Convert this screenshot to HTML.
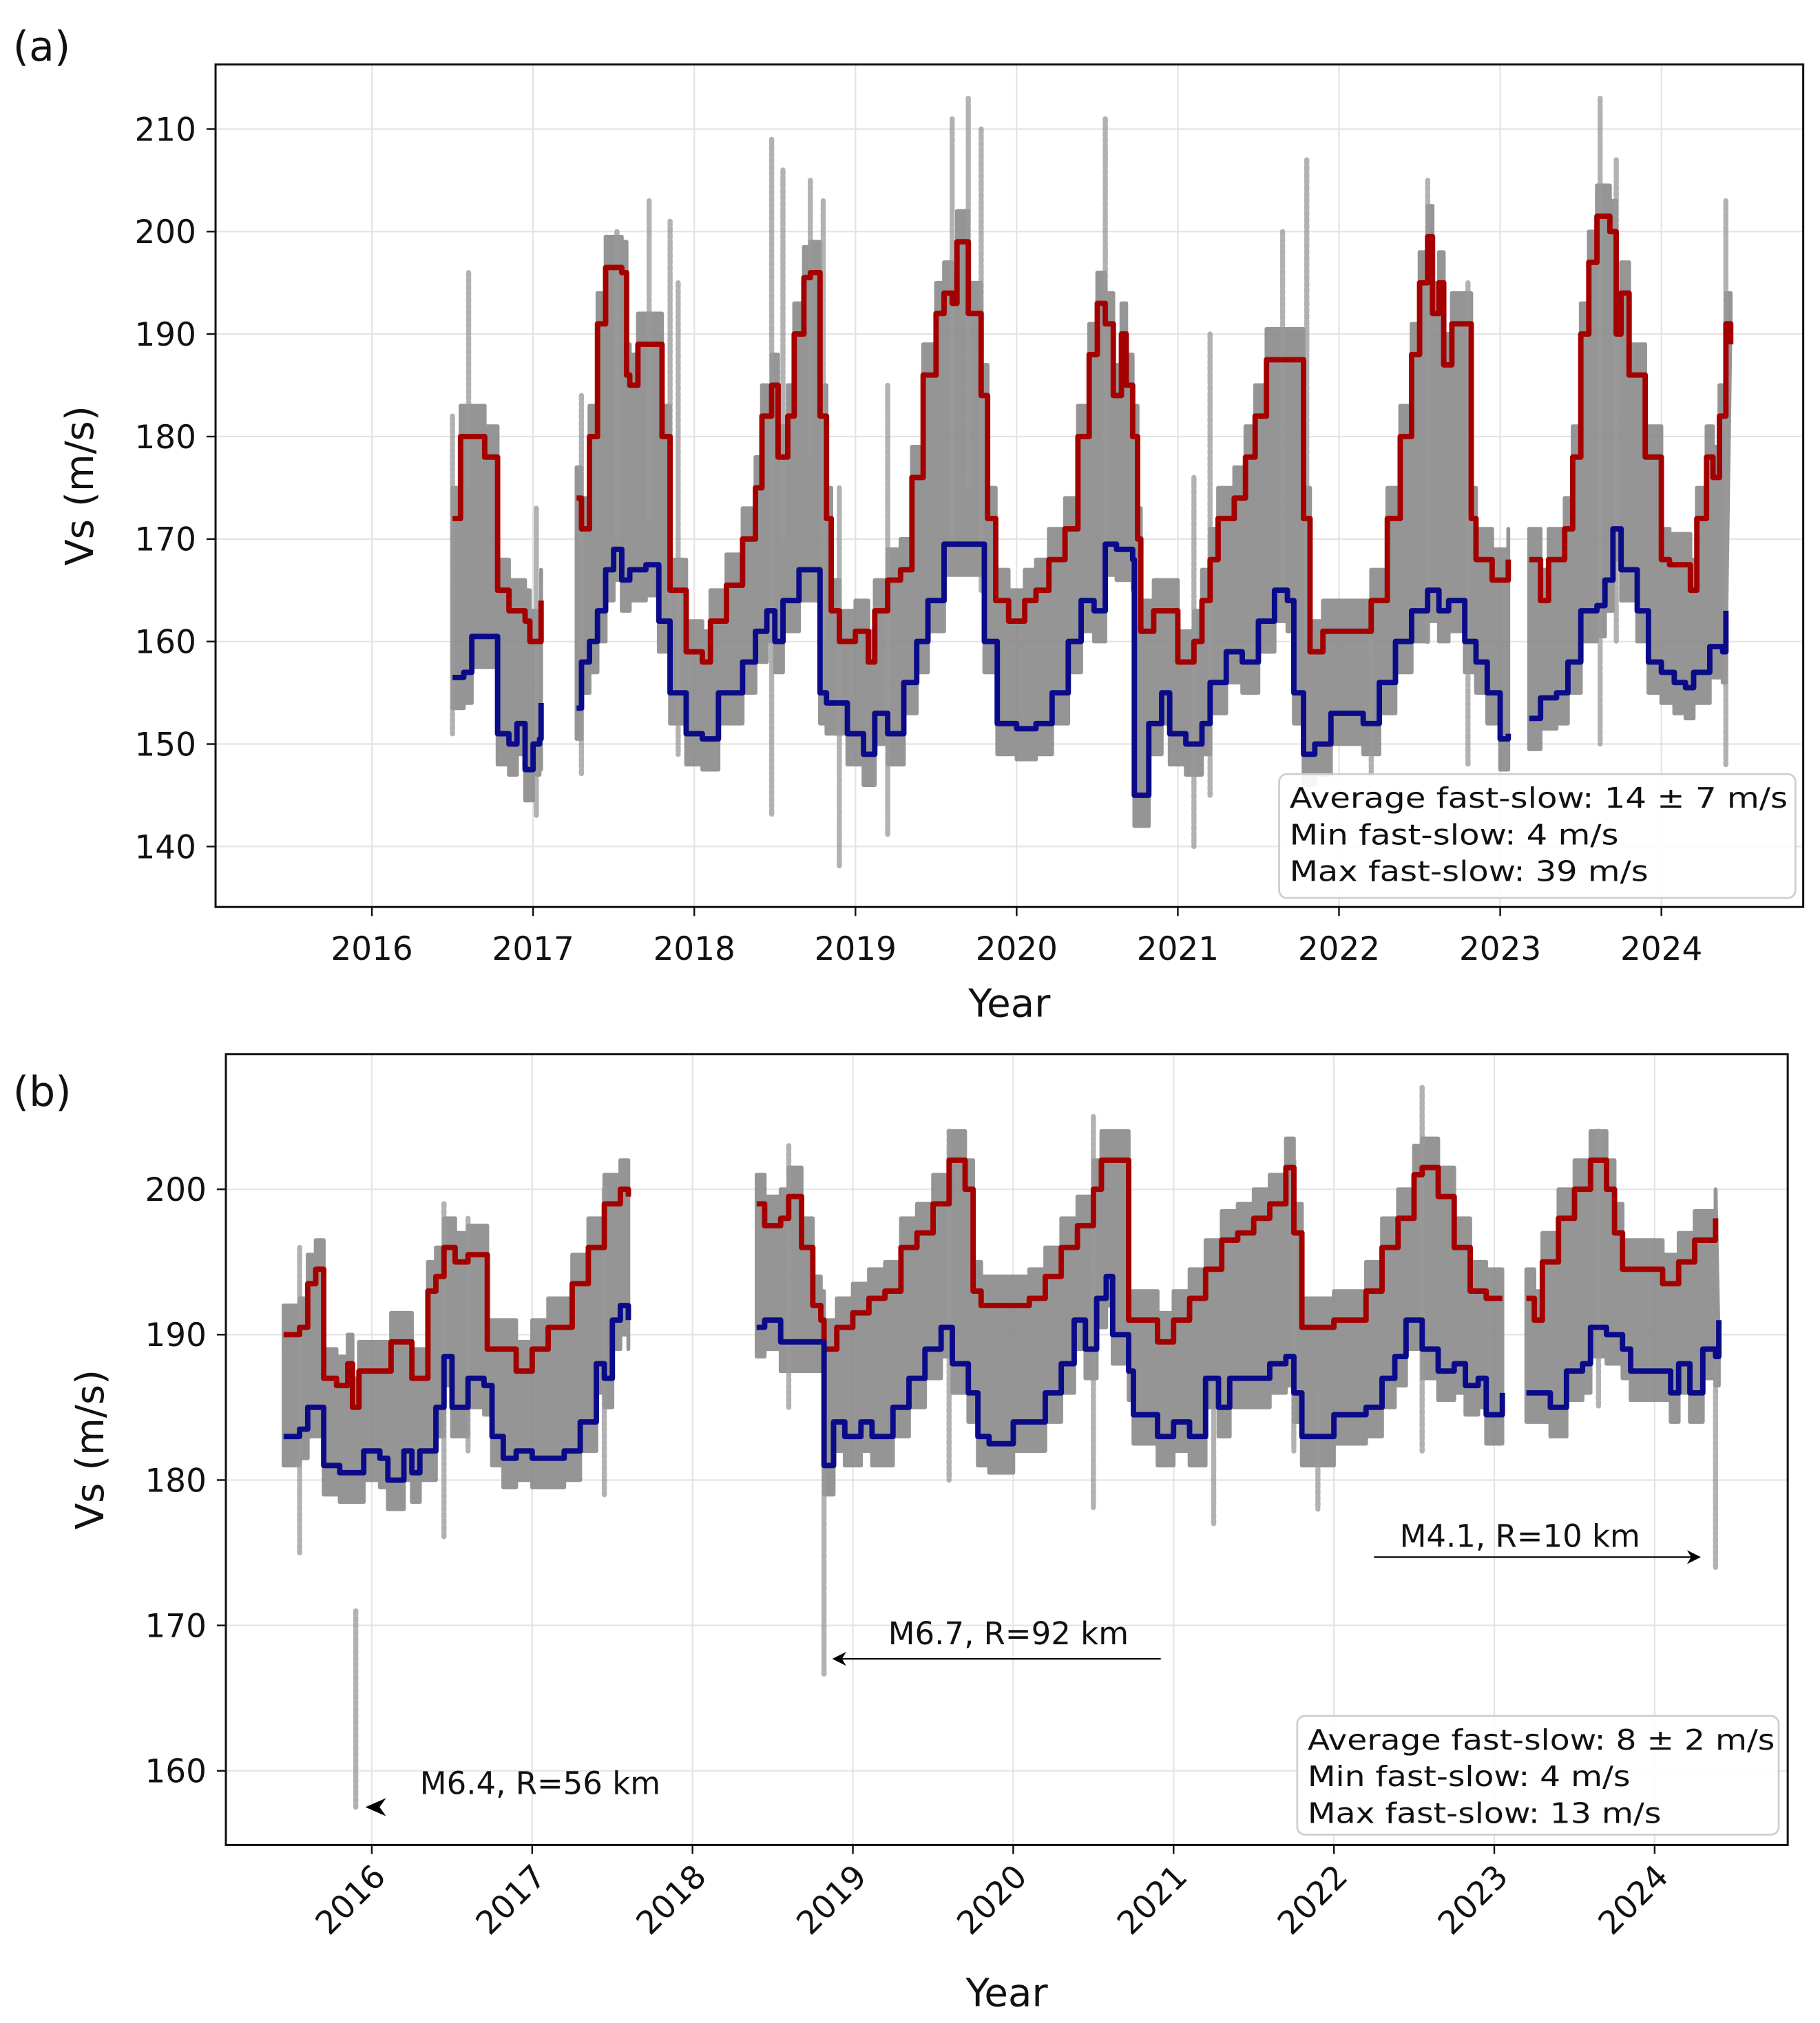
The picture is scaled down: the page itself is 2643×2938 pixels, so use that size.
<!DOCTYPE html>
<html><head><meta charset="utf-8"><style>
html,body{margin:0;padding:0;background:#fff}
svg{display:block}
text{font-family:"DejaVu Sans","Liberation Sans",sans-serif;fill:#111}
</style></head><body>
<svg id="fig" width="2643" height="2938" viewBox="0 0 1410 1568" preserveAspectRatio="none" xmlns="http://www.w3.org/2000/svg">
<g id="pa"></g>
<g id="pb"></g>
</svg>
<script>
// ---- Panel (a) data ----
const aRedX=[2016.5,2016.55,2016.7,2016.78,2016.85,2016.95,2016.98,2017.05,
2017.27,2017.3,2017.35,2017.4,2017.45,2017.55,2017.58,2017.6,2017.65,2017.75,2017.8,2017.85,2017.95,2018.05,2018.1,2018.2,2018.3,2018.38,2018.42,2018.48,2018.52,2018.58,2018.62,2018.68,2018.72,2018.78,2018.82,2018.85,2018.9,2019.0,2019.08,2019.12,2019.2,2019.28,2019.35,2019.42,2019.5,2019.55,2019.6,2019.63,2019.7,2019.78,2019.82,2019.87,2019.95,2020.05,2020.12,2020.2,2020.3,2020.38,2020.45,2020.5,2020.55,2020.6,2020.65,2020.68,2020.72,2020.75,2020.77,2020.85,2020.95,2021.0,2021.1,2021.15,2021.2,2021.25,2021.35,2021.42,2021.48,2021.55,2021.75,2021.78,2021.82,2021.9,2022.1,2022.2,2022.3,2022.38,2022.45,2022.5,2022.55,2022.58,2022.62,2022.65,2022.7,2022.8,2022.82,2022.85,2022.95,2023.0,2023.05,
2023.18,2023.25,2023.3,2023.4,2023.45,2023.5,2023.55,2023.6,2023.68,2023.72,2023.75,2023.8,2023.9,2024.0,2024.05,2024.15,2024.18,2024.22,2024.28,2024.32,2024.36,2024.4,2024.43];
const aRedY=[172,180,178,165,163,162,160,164,
174,171,180,191,196.5,196,186,185,189,189,180,165,159,158,162,165.5,170,175,182,185,178,182,190,195.5,196,182,172,163,160,161,158,163,166,167,176,186,192,194,193,199,192,184,172,164,162,164,165,168,171,180,188,193,191,184,190,185,180,170,161,163,163,158,160,164,168,172,174,178,182,187.5,187.5,172,159,161,161,164,172,180,188,195,199.5,192,195,187,191,191,172,168,166,166,168,
168,164,168,171,178,190,197,201.5,200,190,194,186,178,168,167.5,167.5,165,172,178,176,182,191,189];
const aBlueX=[2016.5,2016.57,2016.62,2016.72,2016.78,2016.85,2016.9,2016.95,2017.0,2017.04,2017.05,
2017.27,2017.3,2017.35,2017.4,2017.45,2017.5,2017.55,2017.6,2017.7,2017.78,2017.85,2017.95,2018.05,2018.15,2018.3,2018.38,2018.45,2018.5,2018.55,2018.65,2018.72,2018.78,2018.82,2018.95,2019.05,2019.12,2019.2,2019.3,2019.38,2019.45,2019.55,2019.75,2019.8,2019.88,2020.0,2020.12,2020.22,2020.32,2020.4,2020.48,2020.55,2020.62,2020.72,2020.73,2020.78,2020.82,2020.9,2020.95,2021.05,2021.15,2021.2,2021.3,2021.4,2021.5,2021.6,2021.68,2021.72,2021.78,2021.85,2021.95,2022.05,2022.15,2022.25,2022.35,2022.45,2022.55,2022.62,2022.68,2022.78,2022.85,2022.92,2023.0,2023.05,
2023.18,2023.25,2023.35,2023.42,2023.5,2023.6,2023.65,2023.7,2023.75,2023.85,2023.92,2024.0,2024.08,2024.15,2024.2,2024.3,2024.38,2024.4];
const aBlueY=[156.5,157,160.5,160.5,151,150,152,147.5,150,150.5,154,
153.5,158,160,163,167,169,166,167,167.5,162,155,151,150.5,155,158,161,163,160,164,167,167,155,154,151,149,153,151,156,160,164,169.5,169.5,160,152,151.5,152,155,160,164,163,169.5,169,168,145,145,152,155,151,150,152,156,159,158,162,165,164,155,149,150,153,153,152,156,160,163,165,163,164,160,158,155,150.5,151,
152.5,154.5,155,158,163,163.5,166,171,167,163,158,157,156,155.5,157,159.5,159,163];
const aBreaks=[2017.15,2023.11];
const aSpikeX=[2016.5,2016.6,2017.02,2017.3,2017.52,2017.72,2017.85,2017.9,2018.48,2018.55,2018.72,2018.8,2018.9,2019.2,2019.6,2019.7,2019.78,2020.55,2021.1,2021.2,2021.65,2021.8,2022.2,2022.55,2022.8,2023.62,2023.72,2024.4];
const aSpikeHi=[182,196,173,184,200,203,201,195,209,206,205,203,175,185,211,213,210,211,176,190,200,207,160,205,195,213,207,203];
const aSpikeLo=[151,175,143,147,170,172,160,149,143,170,178,160,138,141,170,175,165,170,140,145,165,160,147,160,148,150,160,148];
const aYTicks=[140,150,160,170,180,190,200,210];
const aXTicks=[2016,2017,2018,2019,2020,2021,2022,2023,2024];
const aLegend=["Average fast-slow: 14 \u00b1 7 m/s","Min fast-slow: 4 m/s","Max fast-slow: 39 m/s"];

// ---- Panel (b) data ----
const bRedX=[2015.45,2015.55,2015.6,2015.65,2015.7,2015.78,2015.85,2015.88,2015.92,2016.05,2016.12,2016.2,2016.25,2016.3,2016.35,2016.4,2016.45,2016.52,2016.6,2016.7,2016.72,2016.8,2016.9,2017.0,2017.1,2017.2,2017.25,2017.35,2017.45,2017.55,2017.6,
2018.4,2018.45,2018.55,2018.6,2018.68,2018.75,2018.8,2018.82,2018.9,2019.0,2019.1,2019.2,2019.3,2019.4,2019.5,2019.6,2019.7,2019.75,2019.8,2020.0,2020.1,2020.2,2020.3,2020.4,2020.5,2020.55,2020.7,2020.72,2020.8,2020.9,2021.0,2021.1,2021.2,2021.3,2021.4,2021.5,2021.6,2021.7,2021.75,2021.8,2022.0,2022.1,2022.2,2022.3,2022.4,2022.5,2022.55,2022.65,2022.75,2022.85,2022.95,2023.05,
2023.2,2023.25,2023.3,2023.4,2023.5,2023.6,2023.7,2023.75,2023.8,2023.95,2024.05,2024.15,2024.25,2024.35,2024.38];
const bRedY=[190,190.5,193.5,194.5,187,186.5,188,185,187.5,187.5,189.5,189.5,187,187,193,194,196,195,195.5,195.5,189,189,187.5,189,190.5,190.5,193.5,196,199,200,199.5,
199,197.5,198,199.5,196,192,191,189,190.5,191.5,192.5,193,196,197,199,202,200,193,192,192,192.5,194,196,197.5,200,202,202,191,191,189.5,191,192.5,194.5,196.5,197,198,199,201.5,197,190.5,191,191,193,196,198,201,201.5,199.5,196,193,192.5,192.5,
192.5,191,195,198,200,202,200,197,194.5,194.5,193.5,195,196.5,196.5,198];
const bBlueX=[2015.45,2015.55,2015.6,2015.7,2015.8,2015.9,2015.95,2016.05,2016.1,2016.2,2016.25,2016.3,2016.4,2016.45,2016.5,2016.6,2016.7,2016.75,2016.82,2016.9,2017.0,2017.2,2017.3,2017.4,2017.45,2017.5,2017.55,2017.6,
2018.4,2018.45,2018.55,2018.8,2018.82,2018.88,2018.95,2019.05,2019.12,2019.25,2019.35,2019.45,2019.55,2019.62,2019.72,2019.78,2019.85,2020.0,2020.1,2020.2,2020.3,2020.38,2020.45,2020.52,2020.58,2020.62,2020.72,2020.75,2020.85,2020.9,2021.0,2021.1,2021.2,2021.28,2021.35,2021.5,2021.6,2021.7,2021.75,2021.8,2021.9,2022.0,2022.2,2022.3,2022.38,2022.45,2022.55,2022.65,2022.75,2022.82,2022.9,2022.95,2023.05,
2023.2,2023.3,2023.35,2023.45,2023.55,2023.6,2023.7,2023.8,2023.85,2024.05,2024.1,2024.15,2024.22,2024.3,2024.38,2024.4];
const bBlueY=[183,183.5,185,181,180.5,180.5,182,181.5,180,182,180.5,182,185,188.5,185,187,186.5,183,181.5,182,181.5,182,184,188,187,191,192,191,
190.5,191,189.5,189.5,181,184,183,184,183,185,187,189,190.5,188,186,183,182.5,184,184,186,188,191,189,192.5,194,190,187.5,184.5,184.5,183,184,183,187,185,187,187,188,188.5,186,183,183,184.5,185,187,188.5,191,189,187.5,188,186.5,187,184.5,186,
186,186,185,187.5,188,190.5,190,189,187.5,187.5,186,188,186,189,188.5,191];
const bBreaks=[2018.0,2023.12];
const bSpikeX=[2015.55,2015.9,2016.45,2016.6,2017.45,2018.6,2018.82,2019.6,2020.5,2021.25,2021.75,2021.9,2022.55,2023.65,2024.38];
const bSpikeHi=[196,171,199,198,200,203,190,204,205,187,202,186,207,204,188];
const bSpikeLo=[175,157.5,176,182,179,185,166.5,180,178,177,182,178,182,185,174];
const bYTicks=[160,170,180,190,200];
const bXTicks=[2016,2017,2018,2019,2020,2021,2022,2023,2024];
const bLegend=["Average fast-slow: 8 \u00b1 2 m/s","Min fast-slow: 4 m/s","Max fast-slow: 13 m/s"];

const NS="http://www.w3.org/2000/svg";
function mk(parent,tag,attrs,txt){const e=document.createElementNS(NS,tag);for(const k in attrs)e.setAttribute(k,attrs[k]);if(txt!==undefined)e.textContent=txt;parent.appendChild(e);return e;}

function segs(xs,ys,brk){const out=[];let cur=[];for(let i=0;i<xs.length;i++){if(i>0&&brk.some(b=>xs[i-1]<b&&xs[i]>b)){out.push(cur);cur=[];}cur.push([xs[i],ys[i]]);}out.push(cur);return out;}
function stepPts(seg,sx,sy,off){const p=[];for(let i=0;i<seg.length;i++){const x=sx(seg[i][0]),y=sy(seg[i][1]+off);if(i>0)p.push([x,sy(seg[i-1][1]+off)]);p.push([x,y]);}return p;}

function panel(g,cfg){
  const {L,R,T,B,x0,x1,y0,y1}=cfg;
  const sx=v=>L+(v-x0)/(x1-x0)*(R-L);
  const sy=v=>B-(v-y0)/(y1-y0)*(B-T);
  const grid=mk(g,'g',{});
  
  
  cfg.xt.forEach(t=>{const l=mk(grid,'line',{x1:sx(t),x2:sx(t),y1:T,y2:B,stroke:'#e4e4e4','stroke-width':1.2});});
  cfg.yt.forEach(t=>{const l=mk(grid,'line',{x1:L,x2:R,y1:sy(t),y2:sy(t),stroke:'#e4e4e4','stroke-width':1.2});});
  const sc=mk(g,'g',{});
  
  
  const rs=segs(cfg.rx,cfg.ry,cfg.brk), bs=segs(cfg.bx,cfg.by,cfg.brk);
  for(let k=0;k<rs.length;k++){
    const up=stepPts(rs[k],sx,sy,cfg.pad), lo=stepPts(bs[k]||[],sx,sy,-cfg.pad).reverse();
    const pts=up.concat(lo).map(p=>p[0].toFixed(1)+','+p[1].toFixed(1)).join(' ');
    const pg=mk(sc,'polygon',{points:pts,fill:'#8a8a8a',stroke:'#8a8a8a','stroke-width':3,'stroke-linejoin':'round',opacity:0.9});
    
    
  }
  for(let i=0;i<cfg.spx.length;i++){
    const l=mk(sc,'line',{x1:sx(cfg.spx[i]),x2:sx(cfg.spx[i]),y1:sy(cfg.sph[i]),y2:sy(cfg.spl[i]),stroke:'#999','stroke-width':4,'stroke-dasharray':'3 2','stroke-linecap':'round',opacity:0.75});
    
    
  }
  [[cfg.rx,cfg.ry,'#a50000','fast-line'],[cfg.bx,cfg.by,'#0b0b8a','slow-line']].forEach(([xs,ys,c,n])=>{
    segs(xs,ys,cfg.brk).forEach(s=>{
      const d=stepPts(s,sx,sy,0).map((p,i)=>(i?'L':'M')+p[0].toFixed(1)+' '+p[1].toFixed(1)).join(' ');
      const p=mk(g,'path',{d:d,fill:'none',stroke:c,'stroke-width':4.2,'stroke-linejoin':'round'});
      
      
    });
  });
  const fr=mk(g,'rect',{x:L,y:T,width:R-L,height:B-T,fill:'none',stroke:'#111','stroke-width':1.6});
  
  
  cfg.yt.forEach(t=>{
    mk(g,'line',{x1:L-7,x2:L,y1:sy(t),y2:sy(t),stroke:'#111','stroke-width':1.3});
    const tx=mk(g,'text',{x:L-15,y:sy(t)+9,'text-anchor':'end','font-size':25},String(t));
    
    
  });
  cfg.xt.forEach(t=>{
    mk(g,'line',{x1:sx(t),x2:sx(t),y1:B,y2:B+7,stroke:'#111','stroke-width':1.3});
    let tx;
    if(cfg.rot){tx=mk(g,'text',{x:sx(t)+12,y:B+26,'text-anchor':'end','font-size':25,transform:`rotate(-45 ${sx(t)+12} ${B+26})`},String(t));}
    else tx=mk(g,'text',{x:sx(t),y:B+41,'text-anchor':'middle','font-size':25},String(t));
    
    
  });
  const xt=mk(g,'text',{x:(L+R)/2,y:cfg.xtitleY,'text-anchor':'middle','font-size':30},'Year');
  
  
  const yt=mk(g,'text',{x:cfg.ytitleX,y:(T+B)/2,'text-anchor':'middle','font-size':30,transform:`rotate(-90 ${cfg.ytitleX} ${(T+B)/2})`},'Vs (m/s)');
  
  
  const pl=mk(g,'text',{x:10,y:cfg.labelY,'font-size':32},cfg.label);
  
  
  const lg=mk(g,'g',{});
  
  
  const b=cfg.box;
  mk(lg,'rect',{x:b[0],y:b[1],width:b[2],height:b[3],rx:6,fill:'#fff',stroke:'#ccc','stroke-width':1.5,opacity:0.92});
  cfg.leg.forEach((s,i)=>{
    const t=mk(lg,'text',{x:b[0]+8,y:b[1]+26+i*28.5,'font-size':22,textLength:cfg.legW[i],lengthAdjust:'spacingAndGlyphs'},s);
    
    
  });
  return {sx,sy};
}

const A=panel(document.getElementById('pa'),{L:167,R:1397,T:50,B:703,x0:2015.03,x1:2024.88,y0:134.1,y1:216.3,
 rx:aRedX,ry:aRedY,bx:aBlueX,by:aBlueY,brk:aBreaks,spx:aSpikeX,sph:aSpikeHi,spl:aSpikeLo,pad:3,
 xt:aXTicks,yt:aYTicks,rot:false,xtitleY:788,ytitleX:72,label:'(a)',labelY:47,
 box:[991,600,400,96],leg:aLegend,legW:[386,255,278]});

const Bp=panel(document.getElementById('pb'),{L:175,R:1385,T:817,B:1430,x0:2015.09,x1:2024.83,y0:154.9,y1:209.3,
 rx:bRedX,ry:bRedY,bx:bBlueX,by:bBlueY,brk:bBreaks,spx:bSpikeX,sph:bSpikeHi,spl:bSpikeLo,pad:2,
 xt:bXTicks,yt:bYTicks,rot:true,xtitleY:1555,ytitleX:80,label:'(b)',labelY:857,
 box:[1005,1330,373,92],leg:bLegend,legW:[362,250,274]});

const pb=document.getElementById('pb');
const defs=mk(document.getElementById('fig'),'defs',{});
const mkr=mk(defs,'marker',{id:'ah',viewBox:'0 0 10 10',refX:9,refY:5,markerWidth:9,markerHeight:9,orient:'auto'});
mk(mkr,'path',{d:'M0 0 L10 5 L0 10 L3 5 Z',fill:'#000'});
const annYear=[2015.95,2018.88,2024.28];
const annVal=[157.5,167.7,174.7];
const annText=['M6.4, R=56 km','M6.7, R=92 km','M4.1, R=10 km'];
const annTx=[2016.3,2019.22,2022.41];
const annTy=[158.4,168.7,175.4];
const annStart=[2016.2,2020.92,2022.25];
for(let i=0;i<3;i++){
  const x=Bp.sx(annYear[i]), y=Bp.sy(annVal[i]);
  if(i>0){
    const a=mk(pb,'line',{x1:Bp.sx(annStart[i]),y1:y,x2:x,y2:y,stroke:'#000','stroke-width':1.2,'marker-end':'url(#ah)'});
    
    
  }
  const t=mk(pb,'text',{x:Bp.sx(annTx[i]),y:Bp.sy(annTy[i]),'font-size':24},annText[i]);
  
  
}
const ah=mk(pb,'path',{d:`M${Bp.sx(2015.96)} ${Bp.sy(157.5)} l16 -7 l-5 7 l5 7 Z`,fill:'#000'});


</script>
</body></html>
